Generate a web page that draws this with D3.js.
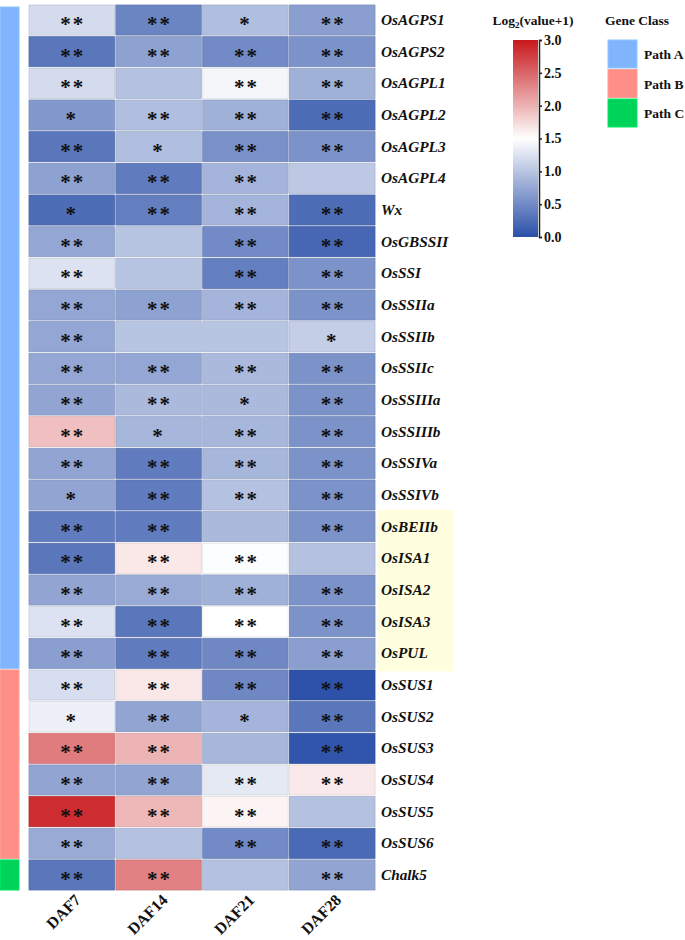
<!DOCTYPE html>
<html><head><meta charset="utf-8">
<script src="https://cdn.jsdelivr.net/npm/d3@7"></script>
<style>body{margin:0;background:#fff}svg{display:block}</style>
</head><body>
<svg id="c" width="685" height="940"></svg>
<script>
const genes = ["OsAGPS1","OsAGPS2","OsAGPL1","OsAGPL2","OsAGPL3","OsAGPL4","Wx","OsGBSSII","OsSSI","OsSSIIa","OsSSIIb","OsSSIIc","OsSSIIIa","OsSSIIIb","OsSSIVa","OsSSIVb","OsBEIIb","OsISA1","OsISA2","OsISA3","OsPUL","OsSUS1","OsSUS2","OsSUS3","OsSUS4","OsSUS5","OsSUS6","Chalk5"];
const stages = ["DAF7","DAF14","DAF21","DAF28"];
const geneClass = ["Path A","Path A","Path A","Path A","Path A","Path A","Path A","Path A","Path A","Path A","Path A","Path A","Path A","Path A","Path A","Path A","Path A","Path A","Path A","Path A","Path A","Path B","Path B","Path B","Path B","Path B","Path B","Path C"];
const classNames = ["Path A","Path B","Path C"];
const classColors = ["#80b4ff","#ff8f86","#00d35a"];
const highlighted = ["OsBEIIb","OsISA1","OsISA2","OsISA3","OsPUL"];
// log2(value+1) per gene, columns DAF7, DAF14, DAF21, DAF28
const DAF7  = [1.19,0.33,1.19,0.62,0.33,0.70,0.25,0.74,1.25,0.74,0.74,0.74,0.72,1.91,0.72,0.72,0.38,0.33,0.72,1.25,0.67,1.22,1.37,2.35,0.72,2.87,0.78,0.33];
const DAF14 = [0.45,0.70,0.97,0.94,0.94,0.38,0.40,1.00,1.00,0.70,1.00,0.74,0.90,0.88,0.38,0.38,0.38,1.65,0.78,0.33,0.38,1.65,0.72,1.99,0.72,1.97,0.97,2.32];
const DAF21 = [0.94,0.50,1.42,0.83,0.55,0.86,0.86,0.50,0.40,0.86,1.00,0.90,0.90,0.88,0.88,0.97,0.90,1.48,0.83,1.50,0.48,0.48,0.86,0.88,1.31,1.57,0.50,0.97];
const DAF28 = [0.67,0.57,0.83,0.25,0.57,1.03,0.25,0.20,0.57,0.57,1.08,0.57,0.57,0.57,0.57,0.57,0.57,0.97,0.57,0.57,0.67,0.02,0.33,0.04,1.64,0.97,0.22,0.72];
const sig7  = ["**","**","**","*","**","**","*","**","**","**","**","**","**","**","**","*","**","**","**","**","**","**","*","**","**","**","**","**"];
const sig14 = ["**","**","","**","*","**","**","","","**","","**","**","*","**","**","**","**","**","**","**","**","**","**","**","**","","**"];
const sig21 = ["*","**","**","**","**","**","**","**","**","**","","**","*","**","**","**","","**","**","**","**","**","*","","**","**","**",""];
const sig28 = ["**","**","**","**","**","","**","**","**","**","*","**","**","**","**","**","**","","**","**","**","**","**","**","**","","**","**"];
const legendTicks = [0,0.5,1.0,1.5,2.0,2.5,3.0];

const values = [DAF7,DAF14,DAF21,DAF28];
const sigs = [sig7,sig14,sig21,sig28];
const cells = [];
genes.forEach((g,i)=>stages.forEach((s,j)=>cells.push({g,s,v:values[j][i],sig:sigs[j][i]})));

const svg = d3.select("#c");
const serif = "'Liberation Serif','Times New Roman',serif";
const x = d3.scaleBand().domain(stages).range([29,375]).paddingInner(0.016);
const y = d3.scaleBand().domain(genes).range([5,890]).paddingInner(0.05);
const color = d3.scaleLinear().domain([0,1.5,3]).range(["#2b50a8","#ffffff","#c8181c"]).clamp(true);

// highlight box
const hl0 = y(highlighted[0]), hl1 = y(highlighted[highlighted.length-1])+y.bandwidth();
svg.append("rect").attr("x",377).attr("y",hl0-2).attr("width",76).attr("height",hl1-hl0+5).attr("fill","#ffffe0");

// class bar
classNames.forEach((c,k)=>{
  const idx = geneClass.map((d,i)=>d===c?i:-1).filter(i=>i>=0);
  const y0 = y(genes[idx[0]]), y1 = y(genes[idx[idx.length-1]])+y.bandwidth();
  svg.append("rect").attr("x",0.5).attr("y",y0+ (k===0?2:0)).attr("width",18.5).attr("height",y1-y0-(k===0?2:0))
    .attr("fill",classColors[k]).attr("stroke",d3.color(classColors[k]).brighter(0.2)).attr("stroke-width",1);
});

// cells
svg.append("g").selectAll("rect").data(cells).join("rect")
  .attr("x",d=>x(d.s)).attr("y",d=>y(d.g)).attr("width",x.bandwidth()).attr("height",y.bandwidth())
  .attr("fill",d=>color(d.v)).attr("stroke",d=>d3.color(color(d.v)).darker(0.25)).attr("stroke-width",0.8);

svg.append("g").selectAll("text").data(cells.filter(d=>d.sig)).join("text")
  .attr("x",d=>x(d.s)+x.bandwidth()/2+(d.sig.length>1?1:0)).attr("y",d=>y(d.g)+y.bandwidth()/2+11)
  .attr("text-anchor","middle").attr("font-family",serif).attr("font-weight","bold").attr("font-size",21).attr("letter-spacing",2)
  .attr("fill","#111").text(d=>d.sig);

// gene labels
svg.append("g").selectAll("text").data(genes).join("text")
  .attr("x",381).attr("y",d=>y(d)+y.bandwidth()/2+5)
  .attr("font-family",serif).attr("font-weight","bold").attr("font-style","italic").attr("font-size",15.3)
  .attr("fill","#111").text(d=>d);

// column labels
svg.append("g").selectAll("text").data(stages).join("text")
  .attr("transform",d=>`translate(${x(d)+x.bandwidth()/2+10},${901}) rotate(-45)`)
  .attr("text-anchor","end").attr("font-family",serif).attr("font-weight","bold").attr("font-size",16)
  .attr("fill","#111").text(d=>d);

// colour bar
const cb = {x:513,y0:40,y1:237,w:25};
const defs = svg.append("defs");
const grad = defs.append("linearGradient").attr("id","cbg").attr("x1",0).attr("x2",0).attr("y1",1).attr("y2",0);
d3.range(0,3.001,0.25).forEach(v=>grad.append("stop").attr("offset",v/3).attr("stop-color",color(v)));
svg.append("rect").attr("x",cb.x).attr("y",cb.y0).attr("width",cb.w).attr("height",cb.y1-cb.y0).attr("fill","url(#cbg)");
const cbScale = d3.scaleLinear().domain([0,3]).range([cb.y1,cb.y0]);
const cbAxis = svg.append("g").attr("transform",`translate(${cb.x+cb.w+1},0)`)
  .call(d3.axisRight(cbScale).tickValues(legendTicks).tickFormat(d3.format(".1f")).tickSize(3).tickPadding(2));
cbAxis.select(".domain").attr("stroke","#222").attr("stroke-width",1.5);
cbAxis.selectAll(".tick line").attr("stroke","#222").attr("stroke-width",1.5);
cbAxis.selectAll("text").attr("font-family",serif).attr("font-weight","bold").attr("font-size",14).attr("fill","#111");
const t = svg.append("text").attr("x",533).attr("y",25).attr("text-anchor","middle")
  .attr("font-family",serif).attr("font-weight","bold").attr("font-size",13.5).attr("fill","#111");
t.append("tspan").text("Log");
t.append("tspan").attr("font-size",9).attr("dy",3).text("2");
t.append("tspan").attr("dy",-3).text("(value+1)");

// class legend
svg.append("text").attr("x",605).attr("y",25).attr("font-family",serif).attr("font-weight","bold").attr("font-size",13.5).attr("fill","#111").text("Gene Class");
const lg = svg.append("g").selectAll("g").data(classNames).join("g").attr("transform",(d,i)=>`translate(608,${40+i*29.5})`);
lg.append("rect").attr("width",29).attr("height",28).attr("fill",(d,i)=>classColors[i]).attr("stroke",(d,i)=>d3.color(classColors[i]).brighter(0.3)).attr("stroke-width",1);
lg.append("text").attr("x",36).attr("y",19).attr("font-family",serif).attr("font-weight","bold").attr("font-size",13.5).attr("fill","#111").text(d=>d);
</script>
</body></html>
